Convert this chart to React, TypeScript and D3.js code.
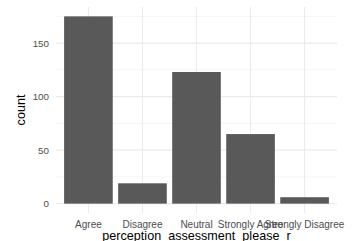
import * as d3 from 'd3';

const categories = ['Agree', 'Disagree', 'Neutral', 'Strongly Agree', 'Strongly Disagree'];
const counts = [175, 19, 123, 65, 6];
const majorTicks = [0, 50, 100, 150];
const minorTicks = [25, 75, 125, 175];

const App = () => {
  const width = 352;
  const height = 241;
  const left = 56;
  const right = 337;
  const top = 7;
  const bottom = 213;

  // band scale laid out like ggplot's discrete axis (0.6 expansion, bar width 0.9)
  const x = d3.scaleBand().domain(categories).range([left, right]).paddingInner(0.1).paddingOuter(0.15);
  const barW = x.bandwidth();
  const center = (c: string) => (x(c) as number) + barW / 2;

  const maxV = d3.max(counts) as number;
  const y = d3.scaleLinear().domain([-maxV * 0.05, maxV * 1.05]).range([bottom, top]);

  const grid = '#EBEBEB';
  const textCol = '#4D4D4D';

  return (
    <svg width={width} height={height} style={{ position: 'absolute', left: 0, top: 0, background: '#fff' }}
      fontFamily="'Liberation Sans', Arial, sans-serif">
      {minorTicks.map(t => (
        <line key={'mi' + t} x1={left} x2={right} y1={y(t)} y2={y(t)} stroke={grid} strokeWidth={0.55} />
      ))}
      {majorTicks.map(t => (
        <line key={'ma' + t} x1={left} x2={right} y1={y(t)} y2={y(t)} stroke={grid} strokeWidth={1.07} />
      ))}
      {categories.map(c => (
        <line key={'v' + c} x1={center(c)} x2={center(c)} y1={top} y2={bottom} stroke={grid} strokeWidth={1.07} />
      ))}
      {categories.map((c, i) => (
        <rect key={'b' + c} x={x(c)} width={barW} y={y(counts[i])} height={y(0) - y(counts[i])} fill="#595959" />
      ))}
      {majorTicks.map(t => (
        <text key={'yl' + t} x={49} y={y(t)} dy="0.35em" textAnchor="end" fontSize={9.8} fill={textCol}>{t}</text>
      ))}
      {categories.map(c => (
        <text key={'xl' + c} x={center(c)} y={228} textAnchor="middle" fontSize={10} fill={textCol}>{c}</text>
      ))}
      <text x={(left + right) / 2} y={239.5} textAnchor="middle" fontSize={12.6} fill="#000">perception_assessment_please_r</text>
      <text transform={`translate(24.5,${(top + bottom) / 2}) rotate(-90)`} textAnchor="middle" fontSize={12.6} fill="#000">count</text>
    </svg>
  );
};

export default App;
